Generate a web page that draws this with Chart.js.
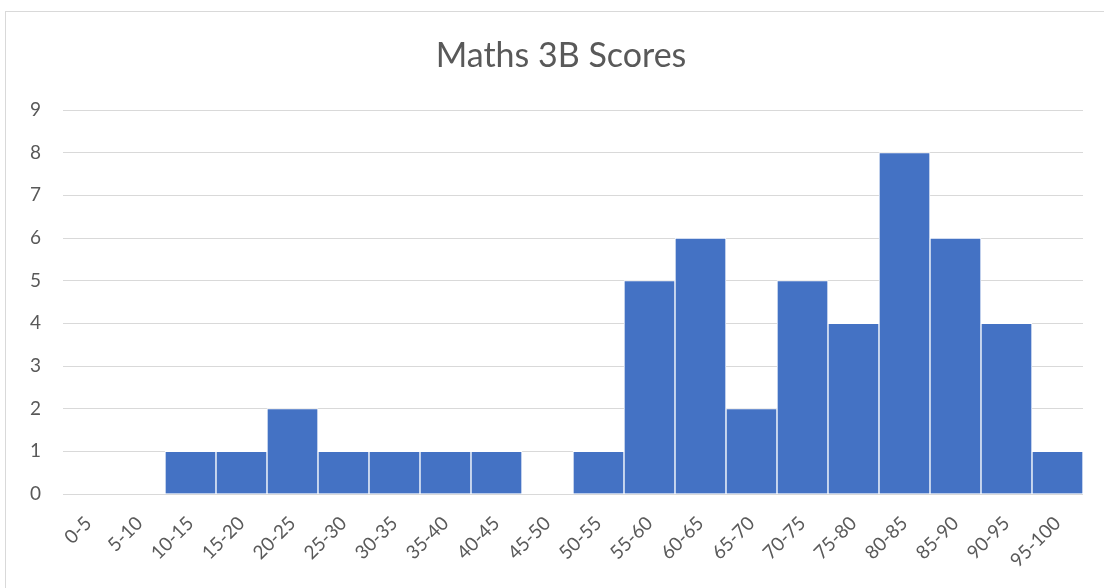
<!DOCTYPE html>
<html>
<head>
<meta charset="utf-8">
<script src="https://cdn.jsdelivr.net/npm/chart.js@4/dist/chart.umd.min.js"></script>
<style>
    body { margin: 0; background: #fff; }
    #frame {
        position: absolute; left: 5px; top: 11px;
        width: 1110px; height: 600px;
        border: 1px solid #d9d9d9;
    }
    #wrap { position: absolute; left: 0; top: 0; width: 1104px; height: 588px; }
</style>
</head>
<body>
<div id="frame"></div>
<div id="wrap"><canvas id="chart"></canvas></div>
<script>
// score bands along the x axis
var BANDS = ['0-5', '5-10', '10-15', '15-20', '20-25', '25-30', '30-35', '35-40', '40-45', '45-50',
    '50-55', '55-60', '60-65', '65-70', '70-75', '75-80', '80-85', '85-90', '90-95', '95-100'];

// number of students in each band
var COUNTS = [0, 0, 1, 1, 2, 1, 1, 1, 1, 0, 1, 5, 6, 2, 5, 4, 8, 6, 4, 1];

var TITLE = 'Maths 3B Scores';
var Y_MIN = 0;
var Y_MAX = 9;

var TEXT = '#595959';
var FONT = 'Lato, "Open Sans", sans-serif';

/**
 * Title centred on the outer frame rather than on the canvas.
 */
var frameTitle = {
    id: 'frameTitle',
    afterDraw: function (chart) {
        var ctx = chart.ctx;
        ctx.save();
        ctx.fillStyle = TEXT;
        ctx.font = '34px ' + FONT;
        ctx.textAlign = 'center';
        ctx.textBaseline = 'middle';
        ctx.fillText(TITLE, 561, 56);
        ctx.restore();
    }
};

new Chart(document.getElementById('chart').getContext('2d'), {
    type: 'bar',
    data: {
        labels: BANDS,
        datasets: [{
            label: 'Scores',
            data: COUNTS,
            backgroundColor: '#4472c4',
            borderColor: '#ffffff',
            borderWidth: 1,
            categoryPercentage: 1,
            barPercentage: 1
        }]
    },
    plugins: [frameTitle],
    options: {
        responsive: true,
        maintainAspectRatio: false,
        animation: false,
        layout: { padding: { left: 0, right: 21, top: 110, bottom: 0 } },
        plugins: {
            legend: { display: false },
            tooltip: { enabled: false },
            title: { display: false }
        },
        scales: {
            x: {
                grid: { display: false, drawTicks: false },
                border: { display: false },
                ticks: {
                    color: TEXT,
                    font: { family: FONT, size: 19 },
                    minRotation: 45,
                    maxRotation: 45,
                    autoSkip: false,
                    padding: 18
                },
                afterFit: function (scale) { scale.height = 94; }
            },
            y: {
                min: Y_MIN,
                max: Y_MAX,
                grid: { color: '#d9d9d9', lineWidth: 1, drawTicks: false },
                border: { display: false },
                ticks: {
                    stepSize: 1,
                    color: TEXT,
                    font: { family: FONT, size: 19 },
                    padding: 22
                },
                afterFit: function (scale) { scale.width = 63; }
            }
        }
    }
});
</script>
</body>
</html>
